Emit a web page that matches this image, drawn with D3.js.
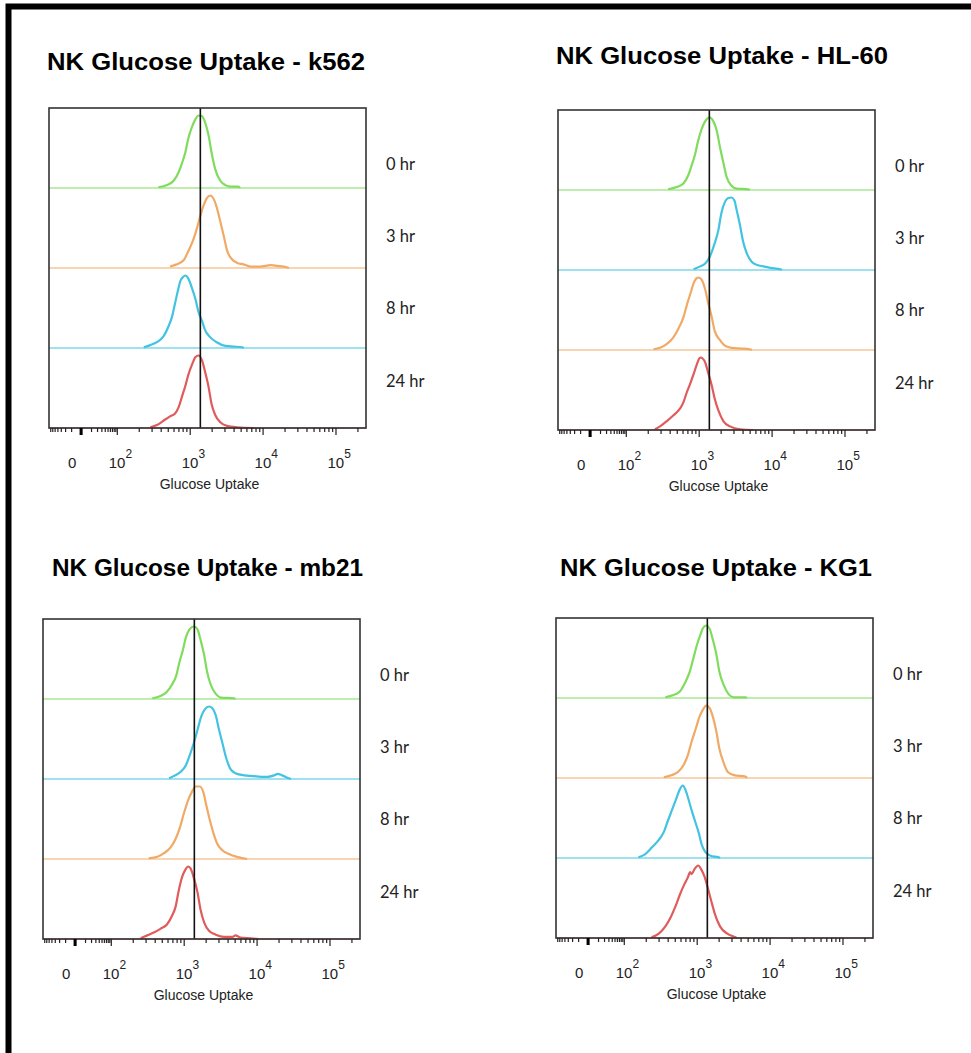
<!DOCTYPE html>
<html>
<head>
<meta charset="utf-8">
<script src="https://cdn.jsdelivr.net/npm/d3@7"></script>
<style>
  body { margin: 0; background: #fff; }
  svg { display: block; }
</style>
</head>
<body>
<div id="chart"></div>
<script>
(function() {
// ---- data: histograms as [log10 glucose uptake, % of mode] ----
const timepoints = ['0 hr', '3 hr', '8 hr', '24 hr']
const cellLines = ['k562', 'HL-60', 'mb21', 'KG1']
const gateValue = 1400

const k562_0 = [[2.57,1],[2.69,4],[2.78,10],[2.85,22],[2.89,33],[2.94,49],[2.98,68],[3.03,84],[3.08,95],[3.12,100],[3.17,99],[3.21,91],[3.26,72],[3.30,49],[3.35,26],[3.42,10],[3.49,4],[3.56,2],[3.67,2],[3.69,0]]
const k562_3 = [[2.73,2],[2.82,5],[2.92,11],[2.98,23],[3.05,39],[3.10,55],[3.14,70],[3.19,86],[3.24,97],[3.28,100],[3.33,95],[3.37,84],[3.42,64],[3.47,43],[3.51,25],[3.58,12],[3.65,7],[3.74,5],[3.83,2],[3.97,2],[4.11,4],[4.20,3],[4.33,1],[4.36,0]]
const k562_8 = [[2.37,1],[2.46,4],[2.55,8],[2.64,16],[2.71,30],[2.76,44],[2.80,62],[2.84,80],[2.87,92],[2.91,98],[2.94,100],[2.98,96],[3.03,83],[3.08,67],[3.12,50],[3.17,37],[3.21,25],[3.28,15],[3.37,8],[3.49,3],[3.60,2],[3.72,1],[3.74,0]]
const k562_24 = [[2.46,1],[2.55,4],[2.64,10],[2.73,16],[2.80,20],[2.85,29],[2.89,42],[2.94,58],[2.98,73],[3.03,87],[3.08,98],[3.12,100],[3.17,93],[3.21,78],[3.26,56],[3.30,33],[3.35,18],[3.42,8],[3.51,3],[3.65,1],[3.88,0]]

const hl60_0 = [[2.58,1],[2.70,4],[2.79,9],[2.86,21],[2.90,33],[2.95,49],[2.99,67],[3.04,84],[3.09,95],[3.15,100],[3.20,95],[3.25,81],[3.29,60],[3.34,37],[3.38,19],[3.45,6],[3.52,2],[3.68,1],[3.70,0]]
const hl60_3 = [[2.93,1],[3.02,5],[3.09,9],[3.15,18],[3.22,37],[3.27,55],[3.31,78],[3.36,94],[3.40,99],[3.45,100],[3.49,96],[3.52,83],[3.57,60],[3.61,39],[3.66,23],[3.73,11],[3.80,7],[3.89,5],[3.98,3],[4.12,1],[4.14,0]]
const hl60_8 = [[2.38,1],[2.47,3],[2.56,8],[2.65,17],[2.72,29],[2.79,45],[2.84,63],[2.89,79],[2.93,92],[2.97,99],[3.00,100],[3.04,97],[3.09,83],[3.13,65],[3.18,45],[3.22,26],[3.29,14],[3.36,6],[3.45,3],[3.59,2],[3.70,1],[3.73,0]]
const hl60_24 = [[2.40,1],[2.47,5],[2.56,12],[2.65,20],[2.74,29],[2.79,38],[2.83,50],[2.88,63],[2.93,77],[2.97,89],[3.01,99],[3.03,100],[3.05,99],[3.09,93],[3.13,79],[3.18,61],[3.22,43],[3.27,27],[3.34,12],[3.43,5],[3.57,1],[3.75,0]]

const mb21_0 = [[2.57,1],[2.68,4],[2.77,10],[2.84,20],[2.90,33],[2.94,50],[2.99,68],[3.03,85],[3.08,96],[3.14,100],[3.19,96],[3.23,82],[3.28,61],[3.32,38],[3.37,20],[3.44,7],[3.51,2],[3.69,1],[3.71,0]]
const mb21_3 = [[2.80,1],[2.86,4],[2.96,10],[3.03,19],[3.08,32],[3.14,50],[3.19,68],[3.24,86],[3.29,96],[3.35,100],[3.39,98],[3.44,88],[3.48,70],[3.53,50],[3.58,30],[3.64,14],[3.71,8],[3.83,5],[3.96,4],[4.06,3],[4.15,3],[4.24,5],[4.29,7],[4.35,5],[4.44,1],[4.47,0]]
const mb21_8 = [[2.52,1],[2.64,3],[2.73,8],[2.82,16],[2.89,28],[2.95,44],[3.00,62],[3.06,81],[3.12,94],[3.16,100],[3.22,100],[3.27,92],[3.31,74],[3.36,53],[3.41,35],[3.46,21],[3.53,12],[3.62,7],[3.73,3],[3.87,0]]
const mb21_24 = [[2.41,1],[2.50,5],[2.59,9],[2.68,14],[2.77,20],[2.84,32],[2.89,45],[2.93,66],[2.98,86],[3.02,95],[3.06,100],[3.09,98],[3.14,84],[3.19,64],[3.23,41],[3.28,23],[3.35,11],[3.44,6],[3.55,3],[3.67,3],[3.71,5],[3.78,2],[3.92,1],[4.03,0]]

const kg1_0 = [[2.57,1],[2.68,4],[2.77,9],[2.84,21],[2.90,35],[2.95,53],[3.00,72],[3.05,87],[3.09,97],[3.13,100],[3.18,95],[3.22,81],[3.27,60],[3.31,37],[3.37,18],[3.44,5],[3.51,1],[3.67,1],[3.69,0]]
const kg1_3 = [[2.55,1],[2.66,4],[2.75,9],[2.82,18],[2.88,32],[2.93,50],[2.99,69],[3.04,85],[3.09,95],[3.13,100],[3.18,96],[3.22,85],[3.27,64],[3.31,41],[3.37,21],[3.43,8],[3.51,4],[3.67,2],[3.69,0]]
const kg1_8 = [[2.20,1],[2.29,5],[2.38,14],[2.48,25],[2.55,36],[2.60,50],[2.66,66],[2.72,82],[2.77,95],[2.81,100],[2.85,93],[2.89,80],[2.93,66],[2.98,50],[3.03,34],[3.07,18],[3.12,8],[3.19,3],[3.30,1],[3.32,0]]
const kg1_24 = [[2.38,1],[2.48,6],[2.57,16],[2.64,28],[2.71,44],[2.77,60],[2.83,74],[2.88,84],[2.91,91],[2.93,88],[2.97,95],[3.02,100],[3.06,95],[3.11,84],[3.15,70],[3.20,51],[3.25,33],[3.32,16],[3.42,6],[3.53,1],[3.55,0]]

const k562 = [k562_0, k562_3, k562_8, k562_24]
const hl60 = [hl60_0, hl60_3, hl60_8, hl60_24]
const mb21 = [mb21_0, mb21_3, mb21_8, mb21_24]
const kg1 = [kg1_0, kg1_3, kg1_8, kg1_24]

const majorTicks = [0, 100, 1000, 10000, 100000]
const majorLabels = ['0', '2', '3', '4', '5']
const linearTicks = [-70, -60, -50, -40, -30, -20, -10, 10, 20, 30, 40, 50, 60, 70, 80, 90]
const maxValue = 262144

// ---- layout ----
const width = 971,
      height = 1053,
      boxW = 317,
      boxH = 320

const green = '#80dc5e', orange = '#f0aa66', blue = '#42c3e2', red = '#e05c5c'

const panels = [
  { data: k562, name: cellLines[0], left: 49, top: 108, tx: 47, ty: 70, tw: 318, colors: [green, orange, blue, red] },
  { data: hl60, name: cellLines[1], left: 558, top: 110, tx: 556, ty: 64, tw: 332, colors: [green, blue, orange, red] },
  { data: mb21, name: cellLines[2], left: 43, top: 619, tx: 52, ty: 576, tw: 311, colors: [green, blue, orange, red] },
  { data: kg1, name: cellLines[3], left: 556, top: 618, tx: 560, ty: 576, tw: 312, colors: [green, orange, blue, red] }
]

// biexponential-like display transform: log above 100, compressed linear around 0
function display(v) {
  if (v >= 100) return Math.log10(v)
  const s = v < 0 ? -1 : 1
  return 1.51 + s * 0.49 * Math.log10(1 + 9 * Math.abs(v) / 100)
}

const x = d3.scaleLinear()
  .domain([1.07, Math.log10(maxValue)])
  .range([0, boxW])

const minorTicks = []
for (let k = 2; k <= 5; k++) {
  for (let m = 2; m <= 9; m++) {
    if (m * Math.pow(10, k) <= maxValue) minorTicks.push(m * Math.pow(10, k))
  }
}

const svg = d3.select('#chart')
  .append('svg')
  .attr('width', width)
  .attr('height', height)

svg.append('rect').attr('width', width).attr('height', height).attr('fill', '#fff')

// outer frame (left + top)
svg.append('path')
  .attr('d', 'M8.5,' + height + 'V6.5H' + width)
  .attr('fill', 'none')
  .attr('stroke', '#000')
  .attr('stroke-width', 6)

const line = d3.line()
  .x(function(d) { return x(d[0]) })
  .y(function(d) { return d.y })
  .curve(d3.curveMonotoneX)

panels.forEach(function(p) {
  svg.append('text')
    .attr('x', p.tx)
    .attr('y', p.ty)
    .attr('textLength', p.tw)
    .attr('lengthAdjust', 'spacingAndGlyphs')
    .style('font-family', '"Liberation Sans", Arial, sans-serif')
    .style('font-weight', 'bold')
    .style('font-size', '23px')
    .text('NK Glucose Uptake - ' + p.name)

  const g = svg.append('g')
    .attr('transform', 'translate(' + p.left + ',' + p.top + ')')

  const laneH = boxH / p.data.length

  p.data.forEach(function(hist, i) {
    const base = laneH * (i + 1)
    const y = d3.scaleLinear().domain([0, 100]).range([base, base - 72.5])

    // flat baseline across the whole range
    g.append('line')
      .attr('x1', 0).attr('x2', boxW)
      .attr('y1', y(0)).attr('y2', y(0))
      .attr('stroke', p.colors[i])
      .attr('stroke-width', 1.2)

    const pts = hist.map(function(d) { return { 0: d[0], y: y(d[1]) } })
    g.append('path')
      .attr('d', line(pts))
      .attr('fill', 'none')
      .attr('stroke', p.colors[i])
      .attr('stroke-width', 2.2)
      .attr('stroke-linejoin', 'round')

    g.append('text')
      .attr('x', boxW + 20)
      .attr('y', 56 + i * 72.3)
      .attr('dy', '0.35em')
      .style('font-family', 'Lato, "Open Sans", sans-serif')
      .style('font-size', '16.5px')
      .style('fill', '#222')
      .text(timepoints[i])
  })

  // gate line
  g.append('line')
    .attr('x1', x(display(gateValue))).attr('x2', x(display(gateValue)))
    .attr('y1', 0).attr('y2', boxH)
    .attr('stroke', '#111')
    .attr('stroke-width', 1.6)

  g.append('rect')
    .attr('width', boxW)
    .attr('height', boxH)
    .attr('fill', 'none')
    .attr('stroke', '#333')
    .attr('stroke-width', 1.6)

  // axis ticks
  const minorAxis = d3.axisBottom(x)
    .tickValues(minorTicks.concat(linearTicks).map(display))
    .tickSize(4)
    .tickFormat('')
  const majorAxis = d3.axisBottom(x)
    .tickValues(majorTicks.map(display))
    .tickSize(7)
    .tickFormat('')

  const ax = g.append('g').attr('transform', 'translate(0,' + boxH + ')')
  ax.append('g').call(minorAxis)
  ax.append('g').call(majorAxis)
  ax.selectAll('.domain').remove()
  ax.selectAll('line').attr('stroke', '#222').attr('stroke-width', 1.2)
  ax.append('line')
    .attr('x1', x(display(0))).attr('x2', x(display(0)))
    .attr('y1', 0).attr('y2', 7)
    .attr('stroke', '#000').attr('stroke-width', 3)

  majorTicks.forEach(function(v, j) {
    const t = ax.append('text')
      .attr('y', 40)
      .style('font-family', '"Liberation Sans", Arial, sans-serif')
      .style('font-size', '15px')
      .style('fill', '#222')
    if (v === 0) {
      t.attr('x', x(display(v)) - 9).attr('text-anchor', 'middle').text('0')
    } else {
      t.attr('x', x(display(v)) - 8)
      t.append('tspan').text('10')
      t.append('tspan').attr('dy', -10).style('font-size', '12px').text(majorLabels[j])
    }
  })

  ax.append('text')
    .attr('x', boxW / 2 + 2)
    .attr('y', 61)
    .attr('text-anchor', 'middle')
    .style('font-family', '"Liberation Sans", Arial, sans-serif')
    .style('font-size', '14px')
    .style('fill', '#222')
    .text('Glucose Uptake')
})
})()
</script>
</body>
</html>
